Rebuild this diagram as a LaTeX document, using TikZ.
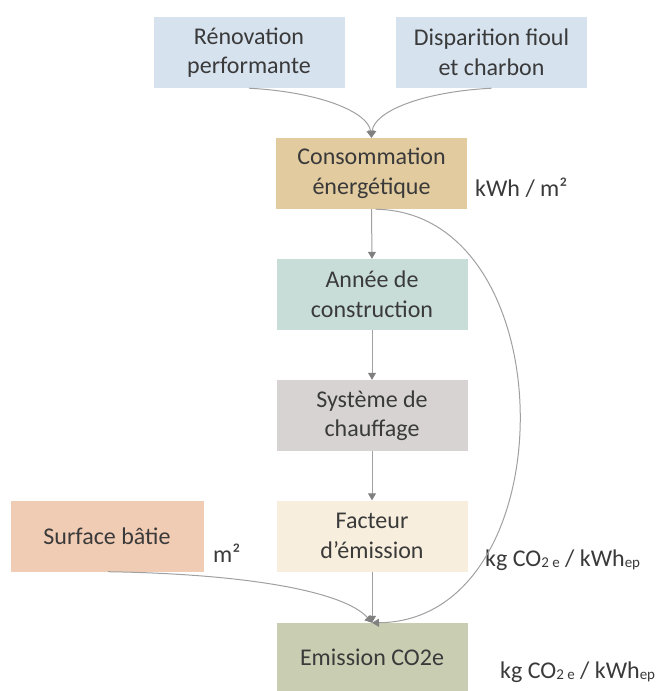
\documentclass[tikz,border=0pt]{standalone}
\usepackage{fontspec}
\setmainfont{Carlito}
\usetikzlibrary{arrows.meta,calc}
\definecolor{txt}{HTML}{3A3A3A}
\definecolor{cblue}{HTML}{D6E2EE}
\definecolor{ccon}{HTML}{E2CB9F}
\definecolor{cann}{HTML}{C8DDD7}
\definecolor{csys}{HTML}{D7D3D3}
\definecolor{cfac}{HTML}{F7EEDD}
\definecolor{csur}{HTML}{F1CCB4}
\definecolor{cemi}{HTML}{C9CEB3}
\definecolor{cline}{HTML}{A0A0A0}
\definecolor{ctip}{HTML}{808080}
\begin{document}
\begin{tikzpicture}[x=1pt,y=-1pt,
  box/.style={minimum width=191pt, minimum height=71pt, align=center, inner sep=0pt,
    text=txt, font=\fontsize{24}{29.5}\selectfont},
  unit/.style={anchor=west, inner sep=0pt, text=txt, font=\fontsize{24}{29.5}\selectfont},
  conn/.style={draw=cline, line width=1pt, -{Triangle[width=8pt,length=7pt,fill=ctip,color=ctip]}}]
\useasboundingbox (0,0) rectangle (666,691);
\newcommand{\smallsub}[1]{\raisebox{-1pt}{\fontsize{15}{15}\selectfont #1}}
\node[box, fill=cblue] (ren) at (249,52.5) {Rénovation\\performante};
\node[box, fill=cblue] (dis) at (491.5,52.5) {Disparition fioul\\et charbon};
\node[box, fill=ccon] (con) at (371.5,173.5) {Consommation\\énergétique};
\node[box, fill=cann] (ann) at (372,294.5) {Année de\\construction};
\node[box, fill=csys] (sys) at (372,415.5) {Système de\\chauffage};
\node[box, fill=cfac] (fac) at (372,536) {Facteur\\d’émission};
\node[box, fill=csur, minimum width=193pt] (sur) at (107,536) {Surface bâtie};
\node[box, fill=cemi, minimum height=68pt] (emi) at (372,657) {Emission CO2e};
\node[unit] (u1) at (475,188) {kWh / m²};
\node[unit] (u2) at (213,553) {m²};
\node[unit] (u3) at (485,560) {kg CO\smallsub{2 e} / kWh\smallsub{ep}};
\node[unit] (u4) at (500,672) {kg CO\smallsub{2 e} / kWh\smallsub{ep}};
\coordinate (csrc) at ($(con.south)+(4,0)$);
\coordinate (ssrc) at ($(sur.south)+(1,0)$);
\draw[conn] (ren.south) .. controls (320,92) and (368,112) .. (con.north);
\draw[conn] (dis.south) .. controls (420,92) and (374,112) .. (con.north);
\draw[conn] (con.south) -- (ann.north);
\draw[conn] (ann.south) -- (sys.north);
\draw[conn] (sys.south) -- (fac.north);
\draw[conn] (fac.south) -- (emi.north);
\draw[conn] (csrc) .. controls (568,212) and (568,621) .. (emi.north);
\draw[conn] (ssrc) .. controls (250,574) and (345,592) .. (emi.north);
\end{tikzpicture}
\end{document}
